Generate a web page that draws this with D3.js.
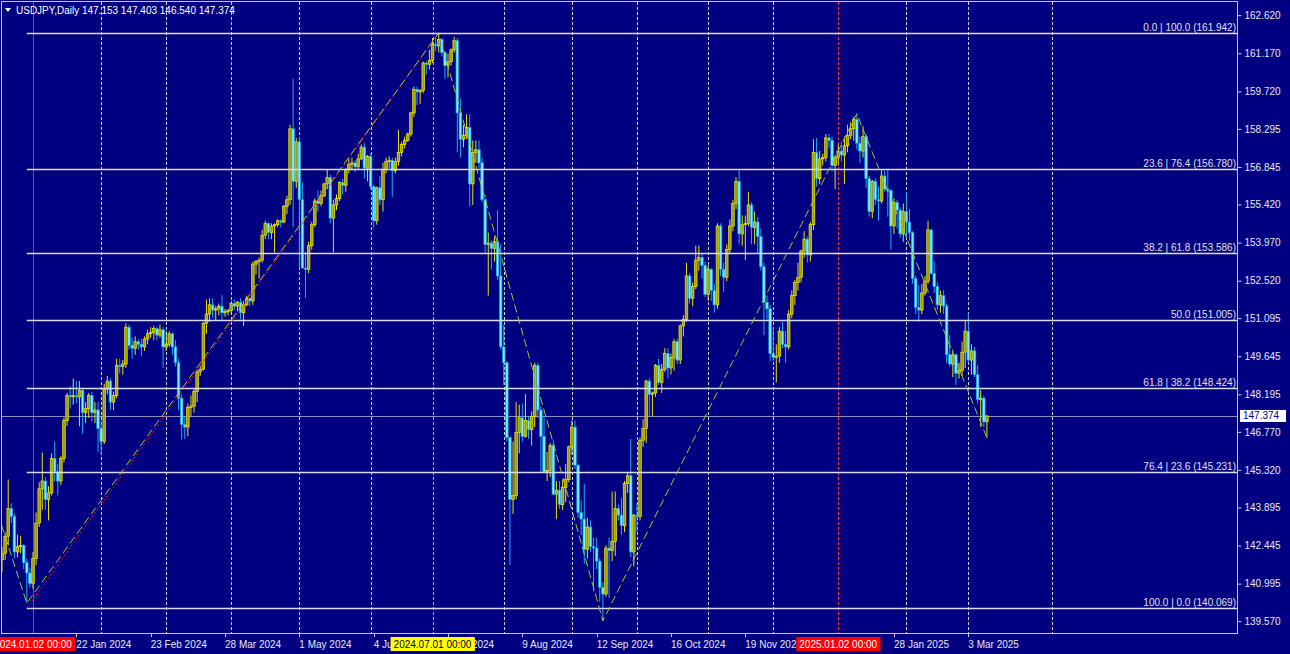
<!DOCTYPE html>
<html><head><meta charset="utf-8">
<script src="https://cdn.jsdelivr.net/npm/d3@7"></script>
<style>html,body{margin:0;padding:0;background:#000080;overflow:hidden}svg{display:block}</style>
</head><body>
<svg id="c" width="1290" height="654"></svg>
<script>
// ---------------- DATA ----------------
const symbol = "USDJPY", period = "Daily";
const holidays = ["2023-12-25", "2024-01-01", "2024-12-25", "2025-01-01"];
const calendarStart = "2023-11-01";   // trading calendar (used for zigzag start)
const candleStart = "2023-12-14";     // first candle drawn
const lastDate = "2025-03-11";

const open = [
 // Dec 2023
 142.90,141.90,142.15,142.80,143.85,143.55,142.20,142.40,142.45,141.80,141.40,
 // Jan 2024
 141.00,141.95,143.30,144.60,144.90,144.20,144.45,145.75,145.25,144.90,145.75,147.20,148.15,148.10,148.15,148.10,148.35,147.50,147.65,148.15,147.50,147.60,
 // Feb 2024
 146.90,146.40,148.40,148.70,147.90,148.15,149.30,149.25,149.35,150.75,150.05,149.95,150.20,150.10,150.00,150.30,150.50,150.55,150.70,150.45,150.65,
 // Mar 2024
 150.00,150.10,150.50,150.00,149.40,148.05,147.05,146.95,147.70,147.75,148.30,149.05,149.15,150.90,151.25,151.60,151.40,151.45,151.55,151.30,151.35,
 // Apr 2024
 151.38,151.65,151.55,151.70,151.30,151.60,151.85,151.75,153.15,153.25,153.30,154.25,154.70,154.35,154.60,154.65,154.80,154.75,155.35,155.60,158.30,156.30,
 // May 2024
 157.80,155.60,153.00,152.95,153.85,154.65,155.55,155.45,155.75,156.20,156.45,154.90,155.40,155.65,156.25,156.15,156.75,156.95,157.00,156.85,157.15,157.60,156.80,
 // Jun 2024
 157.25,156.10,154.80,156.05,155.60,156.75,157.05,157.10,156.70,157.05,157.40,157.70,157.85,158.10,158.90,159.80,159.70,159.75,160.80,160.75,
 // Jul 2024
 160.90,161.50,161.45,161.70,161.20,160.70,160.85,161.30,161.65,158.90,157.90,158.05,158.35,156.20,157.40,157.50,157.00,155.60,153.90,153.95,153.75,154.00,152.70,
 // Aug 2024
 150.00,149.40,146.55,144.20,144.35,146.75,147.30,146.60,147.20,146.85,147.35,149.30,147.60,146.60,145.25,145.30,146.25,144.40,144.55,144.00,144.65,144.95,
 // Sep 2024
 146.20,146.95,145.50,143.70,143.45,142.30,143.15,142.40,142.35,141.85,140.85,140.60,142.35,142.25,142.60,143.85,143.60,143.20,144.80,145.10,142.20,
 // Oct 2024
 143.60,143.55,146.45,146.90,148.70,148.20,148.25,149.30,148.65,149.15,149.75,149.20,149.60,150.20,149.50,150.80,151.05,152.70,151.85,152.30,153.30,153.40,153.10,
 // Nov 2024
 152.00,152.95,152.15,151.60,154.60,152.95,152.65,153.70,154.60,155.45,156.30,154.30,154.65,154.70,155.40,154.55,154.75,154.20,153.05,151.70,151.45,
 // Dec 2024
 149.75,149.60,149.65,150.60,150.10,150.00,151.25,151.95,152.45,152.65,153.65,154.10,153.50,154.65,157.40,156.40,157.15,157.20,157.95,157.85,156.90,
 // Jan 2025
 157.20,157.45,157.30,157.65,158.05,158.30,158.65,157.75,157.45,158.00,156.40,155.15,156.30,155.60,155.55,156.50,156.00,155.95,154.60,155.50,155.20,154.30,
 // Feb 2025
 155.15,154.75,154.35,152.60,151.50,151.40,152.05,152.50,154.45,152.80,152.30,151.60,151.95,151.55,149.70,149.35,149.70,149.00,149.10,149.80,
 // Mar 2025
 150.60,149.50,149.85,148.95,148.00,148.05,147.153
];
const high = [
 143.05,142.40,142.95,144.96,144.05,143.65,142.85,142.80,142.50,141.95,141.60,
 142.20,143.70,144.85,145.98,145.05,144.70,145.95,146.40,145.55,145.85,147.30,148.25,148.50,148.80,148.70,148.70,148.45,147.90,148.25,148.30,147.90,147.90,
 147.20,148.60,148.90,148.80,148.30,149.55,149.55,149.50,150.90,150.85,150.35,150.40,150.30,150.30,150.40,150.65,150.75,150.80,150.75,150.85,150.75,
 150.60,150.60,150.55,150.25,149.55,148.20,147.35,147.85,148.15,148.40,149.15,149.30,150.95,151.80,151.85,151.85,151.55,151.65,151.97,151.45,151.45,
 151.75,151.80,151.75,151.85,151.75,151.95,151.90,153.25,153.30,153.40,154.45,154.80,154.75,154.70,154.70,154.85,154.85,155.40,155.75,158.45,160.20,157.95,
 157.99,156.25,153.60,154.00,154.75,155.65,155.95,155.95,156.25,156.75,156.55,155.60,155.80,156.30,156.40,156.80,157.15,157.20,157.10,157.35,157.70,157.75,157.30,
 157.35,156.15,156.10,156.50,157.00,157.20,157.25,157.20,157.20,158.25,157.80,158.00,158.15,158.95,159.90,159.90,159.80,160.85,160.85,161.30,
 161.75,161.75,161.95,161.75,161.25,161.15,161.35,161.80,161.75,159.45,158.45,158.85,158.85,157.85,157.85,157.85,157.20,155.80,154.35,154.05,154.20,155.20,153.90,
 150.85,149.45,146.60,146.40,147.90,147.80,147.85,148.20,147.35,147.55,149.40,149.40,147.75,147.35,146.00,146.35,146.45,144.90,144.90,144.95,145.55,146.25,
 147.20,147.20,145.55,144.15,144.80,143.50,143.40,142.75,142.75,141.95,141.05,142.45,142.75,144.50,144.50,144.00,144.25,144.90,145.25,146.50,143.65,
 144.05,146.55,147.25,148.75,148.80,148.30,149.35,149.55,149.35,149.95,149.95,149.75,150.30,150.30,150.85,151.20,153.20,152.80,152.45,153.85,153.85,153.55,153.25,
 153.10,153.00,152.40,154.70,154.70,153.20,153.90,154.85,155.60,156.45,156.75,155.00,155.00,155.90,155.50,155.15,154.95,154.50,153.20,151.95,151.60,
 150.75,150.10,150.75,150.95,150.60,151.40,152.15,152.55,153.20,153.70,154.40,154.20,154.75,157.90,157.95,157.45,157.35,158.10,158.10,158.00,157.30,
 157.70,157.80,158.00,158.45,158.55,158.75,158.87,158.00,158.40,158.10,156.50,156.35,156.40,156.10,156.75,156.70,156.75,156.00,155.65,155.60,155.30,155.45,
 155.90,155.25,154.40,152.70,152.35,152.40,152.70,154.80,154.50,153.25,152.45,152.15,152.15,151.65,150.45,149.90,149.75,149.40,150.20,151.00,
 151.30,150.10,150.00,149.30,148.35,148.15,147.403
];
const low = [
 140.97,141.45,141.90,142.45,143.30,141.95,142.00,142.15,141.55,140.25,140.85,
 140.80,141.70,143.15,143.80,143.80,143.40,144.35,144.90,144.35,144.75,145.60,147.00,147.65,147.80,147.85,146.98,146.70,147.10,147.30,147.15,147.10,146.00,
 145.90,146.30,148.20,147.60,147.60,148.05,149.00,148.95,149.20,149.90,149.55,149.70,149.90,149.65,149.85,150.10,150.35,150.25,150.25,150.35,149.20,
 149.85,150.00,149.70,149.25,147.60,146.48,146.50,146.60,147.35,147.50,147.90,148.90,149.10,150.50,150.95,151.10,151.00,151.20,151.00,151.15,151.20,
 151.25,151.40,151.35,151.05,150.80,151.55,151.55,151.60,152.75,152.60,153.20,154.10,154.10,154.10,153.60,154.55,154.55,154.70,155.05,155.40,154.55,156.05,
 153.00,152.98,151.86,152.80,153.70,154.55,155.15,155.35,155.70,156.00,154.70,153.60,155.20,155.55,155.80,155.90,156.60,156.75,156.65,156.75,157.10,156.40,156.30,
 156.00,154.55,154.65,155.40,155.15,156.60,156.80,155.70,156.60,156.90,157.25,157.55,157.80,158.00,158.75,159.20,159.25,159.65,160.35,160.55,
 160.80,161.25,161.20,161.05,160.20,160.25,160.70,161.20,157.40,157.20,157.60,157.90,155.35,155.40,157.00,156.80,155.50,153.55,151.95,152.95,153.25,152.55,149.90,
 148.55,146.40,141.70,143.65,144.20,145.95,146.40,146.55,146.50,146.25,146.95,147.30,145.20,145.20,144.90,145.05,144.35,143.45,143.85,143.80,144.10,144.85,
 145.90,145.35,143.50,142.85,141.75,141.95,142.20,140.70,141.55,140.30,139.58,140.50,140.45,141.85,142.05,143.40,142.85,142.95,144.45,142.00,141.65,
 142.95,143.40,146.20,146.35,147.35,147.35,148.10,148.55,148.25,149.05,148.80,148.95,149.10,149.35,149.35,150.40,150.95,151.65,151.55,152.20,152.90,152.60,151.90,
 151.75,151.75,151.30,151.45,152.70,152.10,152.50,153.55,154.40,155.25,153.90,153.85,153.30,154.60,153.90,153.90,153.55,152.90,150.45,151.05,149.45,
 149.45,148.65,149.40,149.95,149.40,149.90,151.10,151.60,152.15,152.45,153.40,153.20,153.25,154.45,156.10,156.20,156.90,157.05,157.55,156.70,156.00,
 156.90,157.05,156.20,157.40,157.90,157.85,157.50,157.00,157.20,156.05,154.95,154.90,155.40,154.80,155.45,155.90,154.95,153.70,154.30,154.50,154.15,154.00,
 154.15,154.05,152.40,151.25,150.95,151.25,151.95,152.40,152.75,152.05,151.40,151.30,151.25,149.40,149.25,148.85,148.55,148.80,148.90,149.20,
 149.40,148.95,148.85,147.85,146.95,146.95,146.540
];
const close = [
 141.90,142.15,142.80,143.85,143.55,142.20,142.40,142.45,141.80,141.40,141.00,
 141.95,143.30,144.60,144.90,144.20,144.45,145.75,145.25,144.90,145.75,147.20,148.15,148.10,148.15,148.10,148.35,147.50,147.65,148.15,147.50,147.60,146.90,
 146.40,148.40,148.70,147.90,148.15,149.30,149.25,149.35,150.75,150.05,149.95,150.20,150.10,150.00,150.30,150.50,150.55,150.70,150.45,150.65,150.00,
 150.10,150.50,150.00,149.40,148.05,147.05,146.95,147.70,147.75,148.30,149.05,149.15,150.90,151.25,151.60,151.40,151.45,151.55,151.30,151.35,151.38,
 151.65,151.55,151.70,151.30,151.60,151.85,151.75,153.15,153.25,153.30,154.25,154.70,154.35,154.60,154.65,154.80,154.75,155.35,155.60,158.30,156.30,157.80,
 155.60,153.00,152.95,153.85,154.65,155.55,155.45,155.75,156.20,156.45,154.90,155.40,155.65,156.25,156.15,156.75,156.95,157.00,156.85,157.15,157.60,156.80,157.25,
 156.10,154.80,156.05,155.60,156.75,157.05,157.10,156.70,157.05,157.40,157.70,157.85,158.10,158.90,159.80,159.70,159.75,160.80,160.75,160.90,
 161.50,161.45,161.70,161.20,160.70,160.85,161.30,161.65,158.90,157.90,158.05,158.35,156.20,157.40,157.50,157.00,155.60,153.90,153.95,153.75,154.00,152.70,150.00,
 149.40,146.55,144.20,144.35,146.75,147.30,146.60,147.20,146.85,147.35,149.30,147.60,146.60,145.25,145.30,146.25,144.40,144.55,144.00,144.65,144.95,146.20,
 146.95,145.50,143.70,143.45,142.30,143.15,142.40,142.35,141.85,140.85,140.60,142.35,142.25,142.60,143.85,143.60,143.20,144.80,145.10,142.20,143.60,
 143.55,146.45,146.90,148.70,148.20,148.25,149.30,148.65,149.15,149.75,149.20,149.60,150.20,149.50,150.80,151.05,152.70,151.85,152.30,153.30,153.40,153.10,152.00,
 152.95,152.15,151.60,154.60,152.95,152.65,153.70,154.60,155.45,156.30,154.30,154.65,154.70,155.40,154.55,154.75,154.20,153.05,151.70,151.45,149.75,
 149.60,149.65,150.60,150.10,150.00,151.25,151.95,152.45,152.65,153.65,154.10,153.50,154.65,157.40,156.40,157.15,157.20,157.95,157.85,156.90,157.20,
 157.45,157.30,157.65,158.05,158.30,158.65,157.75,157.45,158.00,156.40,155.15,156.30,155.60,155.55,156.50,156.00,155.95,154.60,155.50,155.20,154.30,155.15,
 154.75,154.35,152.60,151.50,151.40,152.05,152.50,154.45,152.80,152.30,151.60,151.95,151.55,149.70,149.35,149.70,149.00,149.10,149.80,150.60,
 149.50,149.85,148.95,148.00,148.05,147.15,147.374
];

const yTicks = [162.620,161.170,159.720,158.295,156.845,155.420,153.970,152.520,151.095,149.645,148.195,146.770,145.320,143.895,142.445,140.995,139.570];
const yDomain = [139.08, 163.12];

// time-axis labels (every 24 bars; the ones fully hidden under object labels are omitted)
const timeLabelDates = ["2024-01-22","2024-02-23","2024-03-28","2024-05-01","2024-06-04","2024-07-08","2024-08-09","2024-09-12","2024-10-16","2024-11-19","2025-01-28","2025-03-03"];
const monthNames = ["Jan","Feb","Mar","Apr","May","Jun","Jul","Aug","Sep","Oct","Nov","Dec"];
const futureSeparators = ["2025-04-01"];

// zigzag swing points
const zigDates = ["2023-11-13","2023-12-28","2024-07-03","2024-09-16","2025-01-10","2025-03-11"];
const zigPrices = [151.91, 140.25, 161.95, 139.58, 158.87, 146.54];

// Fibonacci retracement
const fibAnchorDates = ["2023-12-28", "2024-07-03"];
const fibAnchorPrices = [140.069, 161.942];
const fibLevels = [0, 23.6, 38.2, 50, 61.8, 76.4, 100];
const fibPrices = [161.942, 156.780, 153.586, 151.005, 148.424, 145.231, 140.069];

// vertical line objects
const vlineDates = ["2024-01-02", "2024-07-01", "2025-01-02"];
const vlineLabels = ["2024.01.02 00:00", "2024.07.01 00:00", "2025.01.02 00:00"];

// ---------------- CALENDAR ----------------
const parse = d3.utcParse("%Y-%m-%d"), fmt = d3.utcFormat("%Y-%m-%d");
const hol = new Set(holidays);
const allDays = d3.utcDay.range(parse(calendarStart), d3.utcDay.offset(parse(lastDate), 1))
  .filter(d => d.getUTCDay() !== 0 && d.getUTCDay() !== 6 && !hol.has(fmt(d)));
const dayIndex = new Map(allDays.map((d, i) => [fmt(d), i]));
const lastIdx = allDays.length - 1;
function idxOf(s) {
  if (dayIndex.has(s)) return dayIndex.get(s);
  const d = parse(s);
  return lastIdx + d3.utcDay.count(allDays[lastIdx], d);
}
const c0 = dayIndex.get(candleStart);
const dates = allDays.slice(c0).map(fmt);
const bars = dates.map((d, i) => ({ date: d, i: c0 + i, o: open[i], h: high[i], l: low[i], c: close[i] }));

// ---------------- LAYOUT ----------------
const W = 1290, H = 654;
const plot = { left: 2, top: 2, right: 1238, bottom: 634 };
const FONT = "'Liberation Sans', Arial, sans-serif";
const BG = "#000080";

const x = d3.scaleLinear().domain([idxOf("2024-01-02"), idxOf(lastDate)]).range([33, 986.9]);
const y = d3.scaleLinear().domain(yDomain).range([plot.bottom, plot.top]);

const svg = d3.select("#c");
svg.append("rect").attr("width", W).attr("height", H).attr("fill", BG);

svg.append("defs").append("clipPath").attr("id", "pc")
  .append("rect").attr("x", plot.left).attr("y", plot.top)
  .attr("width", plot.right - plot.left).attr("height", plot.bottom - plot.top);
const g = svg.append("g").attr("clip-path", "url(#pc)");

// period separators (first trading day of each month)
const sepDates = allDays.filter((d, i) => i > 0 && d.getUTCMonth() !== allDays[i - 1].getUTCMonth()).map(fmt)
  .filter(s => !vlineDates.includes(s)).concat(futureSeparators);
g.selectAll("line.sep").data(sepDates).join("line")
  .attr("x1", d => Math.round(x(idxOf(d))) + 0.5).attr("x2", d => Math.round(x(idxOf(d))) + 0.5)
  .attr("y1", plot.top).attr("y2", plot.bottom)
  .attr("stroke", "#d0d0d8").attr("stroke-width", 1).attr("stroke-dasharray", "3,2");

// vertical line objects
const vStyles = [
  { stroke: "#ff2020", dash: null, bg: "#ff0000", fg: "#ffffff" },
  { stroke: "#b8b870", dash: "3,2", bg: "#ffff00", fg: "#000040" },
  { stroke: "#ff3030", dash: "3,2", bg: "#ff0000", fg: "#ffffff" }
];
vlineDates.forEach((d, k) => {
  const xx = Math.round(x(idxOf(d))) + 0.5;
  g.append("line").attr("x1", xx).attr("x2", xx).attr("y1", plot.top).attr("y2", plot.bottom)
    .attr("stroke", vStyles[k].stroke).attr("stroke-width", 1)
    .attr("stroke-dasharray", vStyles[k].dash);
});

// current price line
const last = bars[bars.length - 1];
g.append("line").attr("x1", plot.left).attr("x2", plot.right)
  .attr("y1", Math.round(y(last.c)) + 0.5).attr("y2", Math.round(y(last.c)) + 0.5)
  .attr("stroke", "#8c8cc0").attr("stroke-width", 1);

// candles
const bull = { wick: "#e8e400", fill: "#a09c14", stroke: "#f0ec00" };
const bear = { wick: "#20a8f0", fill: "#70f4ff", stroke: "#1e98e0" };
const cg = g.append("g");
cg.selectAll("line.wick").data(bars).join("line")
  .attr("x1", d => x(d.i)).attr("x2", d => x(d.i))
  .attr("y1", d => y(d.h)).attr("y2", d => y(d.l))
  .attr("stroke", d => d.c >= d.o ? bull.wick : bear.wick).attr("stroke-width", 1);
cg.selectAll("rect.body").data(bars).join("rect")
  .attr("x", d => x(d.i) - 1.3).attr("width", 2.6)
  .attr("y", d => y(Math.max(d.o, d.c)))
  .attr("height", d => Math.max(1, Math.abs(y(d.o) - y(d.c))))
  .attr("fill", d => d.c >= d.o ? bull.fill : bear.fill)
  .attr("stroke", d => d.c >= d.o ? bull.stroke : bear.stroke).attr("stroke-width", 0.7);

// fibonacci levels
const fx1 = x(idxOf(fibAnchorDates[0]));
g.selectAll("line.fib").data(fibPrices).join("line")
  .attr("x1", fx1).attr("x2", plot.right)
  .attr("y1", d => Math.round(y(d)) + 0.5).attr("y2", d => Math.round(y(d)) + 0.5)
  .attr("stroke", "#dcdce8").attr("stroke-width", 1.3);
// fib trend line (red dotted)
g.append("line")
  .attr("x1", x(idxOf(fibAnchorDates[0]))).attr("y1", y(fibAnchorPrices[0]))
  .attr("x2", x(idxOf(fibAnchorDates[1]))).attr("y2", y(fibAnchorPrices[1]))
  .attr("stroke", "#ff1010").attr("stroke-width", 1).attr("stroke-dasharray", "2,2");

// zigzag
const zig = zigDates.map((d, k) => [x(idxOf(d)), y(zigPrices[k])]);
g.append("path").attr("d", d3.line()(zig)).attr("fill", "none")
  .attr("stroke", "#9acd32").attr("stroke-width", 1).attr("stroke-dasharray", "8,4");

// fib labels
const f1 = d3.format(".1f"), f3 = d3.format(".3f");
svg.selectAll("text.fib").data(fibLevels).join("text")
  .attr("x", plot.right - 2).attr("y", (d, k) => Math.round(y(fibPrices[k])) - 2)
  .attr("text-anchor", "end").attr("fill", "#e0e0e8")
  .style("font", `10px ${FONT}`)
  .text((d, k) => d === 50 ? `${f1(d)} (${f3(fibPrices[k])})` : `${f1(d)} | ${f1(100 - d)} (${f3(fibPrices[k])})`);

// frame
svg.append("rect").attr("x", plot.left - 0.5).attr("y", plot.top - 0.5)
  .attr("width", plot.right - plot.left).attr("height", plot.bottom - plot.top)
  .attr("fill", "none").attr("stroke", "#c8c8d0").attr("stroke-width", 1);

// right price axis
const yAxis = d3.axisRight(y).tickValues(yTicks).tickSize(4).tickPadding(3).tickFormat(d3.format(".3f"));
const ya = svg.append("g").attr("transform", `translate(${plot.right - 0.5},0)`).call(yAxis);
ya.select(".domain").remove();
ya.selectAll("line").attr("stroke", "#c8c8d0");
ya.selectAll("text").attr("fill", "#e8e8f0").style("font", `10px ${FONT}`);

// current price label
const py = y(last.c);
svg.append("rect").attr("x", plot.right + 2).attr("y", py - 6).attr("width", 46).attr("height", 12).attr("fill", "#ffffff");
svg.append("text").attr("x", plot.right + 5).attr("y", py).attr("dy", "0.35em")
  .attr("fill", "#000080").style("font", `10px ${FONT}`).text(f3(last.c));

// bottom time labels
const dl = s => { const d = parse(s); return `${d.getUTCDate()} ${monthNames[d.getUTCMonth()]} ${d.getUTCFullYear()}`; };
svg.selectAll("line.tt").data(timeLabelDates).join("line")
  .attr("x1", d => Math.round(x(idxOf(d))) + 0.5).attr("x2", d => Math.round(x(idxOf(d))) + 0.5)
  .attr("y1", plot.bottom).attr("y2", plot.bottom + 3).attr("stroke", "#c8c8d0");
svg.selectAll("text.tl").data(timeLabelDates).join("text")
  .attr("x", d => x(idxOf(d))).attr("y", 648)
  .attr("fill", "#e8e8f0").style("font", `10px ${FONT}`).text(dl);

// vertical line object labels on time axis
vlineDates.forEach((d, k) => {
  const xx = x(idxOf(d));
  const t = svg.append("text").attr("x", xx).attr("y", 648).attr("text-anchor", "middle")
    .attr("fill", vStyles[k].fg).style("font", `10px ${FONT}`).text(vlineLabels[k]);
  const bb = t.node().getBBox();
  svg.insert("rect", () => t.node()).attr("x", bb.x - 3).attr("y", 637).attr("width", bb.width + 6).attr("height", 14)
    .attr("fill", vStyles[k].bg);
});

// title
svg.append("path").attr("d", "M5,8 L11,8 L8,12 Z").attr("fill", "#ffffff");
svg.append("text").attr("x", 16).attr("y", 14).attr("fill", "#ffffff").style("font", `10px ${FONT}`)
  .text(`${symbol},${period}  ${f3(last.o)} ${f3(last.h)} ${f3(last.l)} ${f3(last.c)}`);

if (dates.length !== close.length) console.error("length mismatch", dates.length, close.length);
</script>
</body></html>
